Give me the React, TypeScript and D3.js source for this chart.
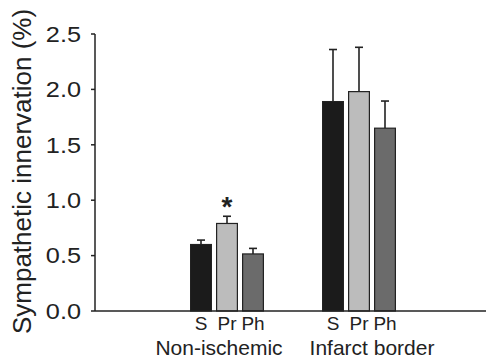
import * as d3 from 'd3';
import { useEffect, useRef } from 'react';

const groups = ['Non-ischemic', 'Infarct border'];
const series = ['S', 'Pr', 'Ph'];
const nonIschemic = [0.6, 0.79, 0.515];
const nonIschemicErr = [0.04, 0.065, 0.05];
const infarctBorder = [1.89, 1.98, 1.65];
const infarctBorderErr = [0.47, 0.4, 0.245];
const yTicks = [0, 0.5, 1.0, 1.5, 2.0, 2.5];
const colors = ['#1b1b1b', '#bcbcbc', '#6b6b6b'];

export default function App() {
  const ref = useRef<SVGSVGElement | null>(null);

  useEffect(() => {
    const svg = d3.select(ref.current);
    svg.selectAll('*').remove();
    const width = 487;
    const height = 358;
    const font = 'Liberation Sans, Arial, sans-serif';
    const left = 95;
    const top = 34;
    const bottom = 311;

    const y = d3.scaleLinear().domain([0, 2.5]).range([bottom, top]);
    const x = d3.scalePoint<string>().domain(['', ...groups, ' ']).range([left, left + 396]);
    const inner = d3.scaleBand<string>().domain(series).range([-39, 39]).paddingInner(0.2).paddingOuter(0.1);

    const data = groups.flatMap((g, gi) => {
      const vals = gi === 0 ? nonIschemic : infarctBorder;
      const errs = gi === 0 ? nonIschemicErr : infarctBorderErr;
      return series.map((s, si) => ({ group: g, s, i: si, value: vals[si], err: errs[si] }));
    });

    svg.append('rect').attr('width', width).attr('height', height).attr('fill', '#fff');

    // error bars (upper only)
    const eb = svg.append('g');
    data.forEach((d) => {
      const cx = x(d.group)! + inner(d.s)! + inner.bandwidth() / 2;
      eb.append('line').attr('x1', cx).attr('x2', cx).attr('y1', y(d.value)).attr('y2', y(d.value + d.err))
        .attr('stroke', '#222').attr('stroke-width', 1.6);
      eb.append('line').attr('x1', cx - 4).attr('x2', cx + 4).attr('y1', y(d.value + d.err)).attr('y2', y(d.value + d.err))
        .attr('stroke', '#222').attr('stroke-width', 1.6);
    });

    svg.append('g')
      .selectAll('rect')
      .data(data)
      .enter()
      .append('rect')
      .attr('x', (d) => x(d.group)! + inner(d.s)!)
      .attr('y', (d) => y(d.value))
      .attr('width', inner.bandwidth())
      .attr('height', (d) => bottom - y(d.value))
      .attr('fill', (d) => colors[d.i])
      .attr('stroke', '#222')
      .attr('stroke-width', 1.2);

    // axes
    svg.append('line').attr('x1', left).attr('x2', 486).attr('y1', bottom).attr('y2', bottom)
      .attr('stroke', '#222').attr('stroke-width', 1.5);
    svg.append('line').attr('x1', left).attr('x2', left).attr('y1', top).attr('y2', bottom)
      .attr('stroke', '#222').attr('stroke-width', 1.5);
    const ticks = svg.append('g');
    yTicks.forEach((t) => {
      ticks.append('line').attr('x1', left - 4).attr('x2', left).attr('y1', y(t)).attr('y2', y(t))
        .attr('stroke', '#222').attr('stroke-width', 1.5);
      ticks.append('text')
        .attr('transform', `translate(81,${y(t) + 7.8}) scale(1.15,1)`)
        .attr('text-anchor', 'end')
        .attr('font-family', font)
        .attr('font-size', 22)
        .attr('fill', '#222')
        .text(t.toFixed(1));
    });

    svg.append('text')
      .attr('transform', `translate(31,171.5) rotate(-90)`)
      .attr('text-anchor', 'middle')
      .attr('font-family', font)
      .attr('font-size', 26)
      .attr('fill', '#222')
      .text('Sympathetic innervation (%)');

    // series labels under bars
    svg.append('g')
      .selectAll('text')
      .data(data)
      .enter()
      .append('text')
      .attr('x', (d) => x(d.group)! + inner(d.s)! + inner.bandwidth() / 2)
      .attr('y', 330)
      .attr('text-anchor', 'middle')
      .attr('font-family', font)
      .attr('font-size', 19)
      .attr('fill', '#222')
      .text((d) => d.s);

    // group labels sit slightly off the group centres in the original
    const labelShift = [-8, 13];
    svg.append('g')
      .selectAll('text')
      .data(groups)
      .enter()
      .append('text')
      .attr('x', (d, i) => x(d)! + labelShift[i])
      .attr('y', 355)
      .attr('text-anchor', 'middle')
      .attr('font-family', font)
      .attr('font-size', 21)
      .attr('fill', '#222')
      .text((d) => d);

    // significance marker
    const pr = data[1];
    svg.append('text')
      .attr('x', x(pr.group)! + inner(pr.s)! + inner.bandwidth() / 2)
      .attr('y', 216)
      .attr('text-anchor', 'middle')
      .attr('font-family', font)
      .attr('font-weight', 'bold')
      .attr('font-size', 28)
      .attr('fill', '#222')
      .text('*');
  }, []);

  return (
    <svg ref={ref} width={487} height={358} style={{ position: 'absolute', left: 0, top: 0 }} />
  );
}
